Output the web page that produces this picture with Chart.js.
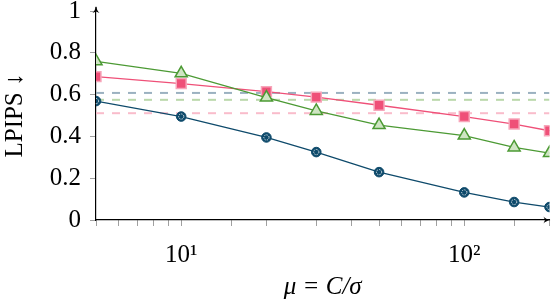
<!DOCTYPE html>
<html>
<head>
<meta charset="utf-8">
<script src="https://cdn.jsdelivr.net/npm/chart.js@4"></script>
<style>
  html, body { margin: 0; padding: 0; background: #fff; }
  #wrap { width: 558px; height: 302px; }
</style>
</head>
<body>
<div id="wrap"><canvas id="chart" width="558" height="302"></canvas></div>
<script>
// data
const mu = [5, 10, 20, 30, 50, 100, 150, 200];
const lpipsBlue = [0.569, 0.495, 0.395, 0.325, 0.229, 0.132, 0.086, 0.062];
const lpipsGreen = [0.759, 0.702, 0.586, 0.522, 0.454, 0.404, 0.347, 0.320];
const lpipsPink = [0.686, 0.653, 0.614, 0.588, 0.549, 0.495, 0.459, 0.427];
const baseBlue = 0.608;
const baseGreen = 0.575;
const basePink = 0.511;
const yTicks = [0, 0.2, 0.4, 0.6, 0.8, 1];

const serif = "'Liberation Serif', 'DejaVu Serif', serif";

function pts(ys) {
  return mu.map((x, i) => ({ x: x, y: ys[i] }));
}
function flat(v) {
  return [{ x: mu[0], y: v }, { x: mu[mu.length - 1], y: v }];
}
function dashed(v, color) {
  return {
    data: flat(v),
    borderColor: color,
    borderWidth: 2,
    borderDash: [8, 8],
    pointRadius: 0,
    order: 5,
  };
}

// white dotted ring inside the blue circles + axis arrows
const extras = {
  id: "extras",
  afterDatasetsDraw(chart) {
    const ctx = chart.ctx;
    const meta = chart.getDatasetMeta(3);
    ctx.save();
    ctx.strokeStyle = "#fff";
    ctx.lineWidth = 0.9;
    ctx.setLineDash([1.2, 1.2]);
    meta.data.forEach((p) => {
      ctx.beginPath();
      ctx.arc(p.x, p.y, 2.6, 0, Math.PI * 2);
      ctx.stroke();
    });
    ctx.restore();
  },
  afterDraw(chart) {
    const ctx = chart.ctx;
    const a = chart.chartArea;
    ctx.save();
    ctx.strokeStyle = "#000";
    ctx.fillStyle = "#000";
    ctx.lineWidth = 1.2;
    // extend y axis a little above 1
    ctx.beginPath();
    ctx.moveTo(a.left, a.top);
    ctx.lineTo(a.left, a.top - 4);
    ctx.stroke();
    // up arrow
    let x = a.left, y = a.top - 5;
    ctx.beginPath();
    ctx.moveTo(x, y);
    ctx.quadraticCurveTo(x + 1, y + 5, x + 3.5, y + 7);
    ctx.lineTo(x, y + 5.5);
    ctx.lineTo(x - 3.5, y + 7);
    ctx.quadraticCurveTo(x - 1, y + 5, x, y);
    ctx.fill();
    // right arrow
    x = a.right + 1; y = a.bottom;
    ctx.beginPath();
    ctx.moveTo(x, y);
    ctx.quadraticCurveTo(x - 5, y + 1, x - 7, y + 3.5);
    ctx.lineTo(x - 5.5, y);
    ctx.lineTo(x - 7, y - 3.5);
    ctx.quadraticCurveTo(x - 5, y - 1, x, y);
    ctx.fill();
    ctx.restore();
  },
};

new Chart(document.getElementById("chart"), {
  type: "line",
  data: {
    datasets: [
      dashed(baseBlue, "#9bb1c0"),
      dashed(baseGreen, "#bad8ab"),
      dashed(basePink, "#f9bccb"),
      {
        data: pts(lpipsBlue),
        borderColor: "#0e4a6b",
        borderWidth: 1.3,
        pointStyle: "circle",
        pointRadius: 4.8,
        pointBackgroundColor: "#0e4a6b",
        pointBorderColor: "#0e4a6b",
        pointBorderWidth: 1,
        order: 1,
      },
      {
        data: pts(lpipsGreen),
        borderColor: "#4c9a34",
        borderWidth: 1.3,
        pointStyle: "triangle",
        pointRadius: 7,
        pointBackgroundColor: "#cfe5c3",
        pointBorderColor: "#4c9a34",
        pointBorderWidth: 1.5,
        order: 2,
      },
      {
        data: pts(lpipsPink),
        borderColor: "#ef5078",
        borderWidth: 1.3,
        pointStyle: "rect",
        pointRadius: 7,
        pointBackgroundColor: "#ef5078",
        pointBorderColor: "#f7a6ba",
        pointBorderWidth: 1.5,
        order: 3,
      },
    ],
  },
  options: {
    responsive: false,
    animation: false,
    layout: { padding: { top: 11, right: 6, left: 0, bottom: 0 } },
    plugins: {
      legend: { display: false },
      tooltip: { enabled: false },
    },
    scales: {
      x: {
        type: "logarithmic",
        min: 5,
        max: 200,
        afterFit(s) {
          s.height = 82;
          s.paddingLeft = 0;
          s.paddingRight = 0;
        },
        grid: {
          drawOnChartArea: false,
          drawTicks: true,
          tickLength: 6,
          tickColor: "#a0a0a0",
        },
        border: { display: true, color: "#000", width: 1.2 },
        ticks: {
          autoSkip: false,
          maxRotation: 0,
          padding: 14,
          color: "#000",
          font: { family: serif, size: 25 },
          callback: (v) => (v === 10 ? "10¹" : v === 100 ? "10²" : ""),
        },
        title: {
          display: true,
          text: "μ = C/σ",
          color: "#000",
          font: { family: serif, size: 25, style: "italic" },
          padding: { top: 0, bottom: 0 },
        },
      },
      y: {
        min: 0,
        max: 1,
        afterFit(s) {
          s.width = 96;
          s.paddingTop = 0;
          s.paddingBottom = 0;
        },
        afterBuildTicks(s) { s.ticks = yTicks.map((v) => ({ value: v })); },
        grid: {
          drawOnChartArea: false,
          drawTicks: true,
          tickLength: 6,
          tickColor: "#a0a0a0",
        },
        border: { display: true, color: "#000", width: 1.2 },
        ticks: {
          padding: 9,
          color: "#000",
          font: { family: serif, size: 25 },
          callback: (v) => (v === 0 || v === 1 ? String(v) : v.toFixed(1)),
        },
        title: {
          display: true,
          text: "LPIPS ↓",
          color: "#000",
          font: { family: serif, size: 25 },
          padding: { top: 0, bottom: 4 },
        },
      },
    },
  },
  plugins: [extras],
});
</script>
</body>
</html>
